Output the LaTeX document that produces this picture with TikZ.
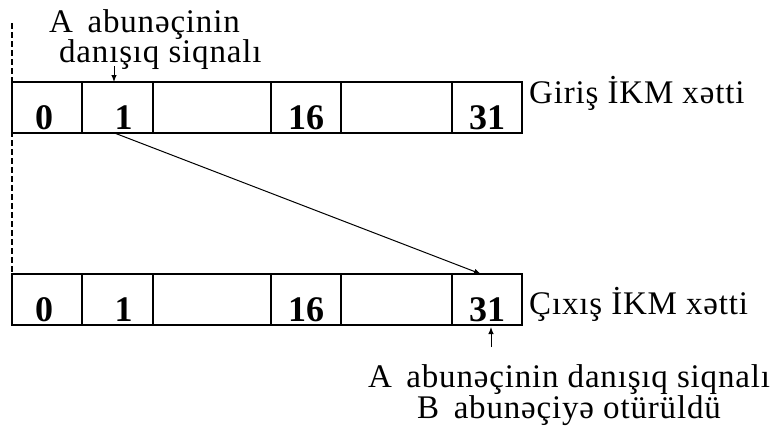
\documentclass[tikz,border=0pt]{standalone}
\usepackage{fontspec}
\setmainfont{Liberation Serif}
\newfontfamily\lblfont[LetterSpace=2.5]{Liberation Serif}
\usetikzlibrary{arrows.meta,positioning}

\begin{document}
\begin{tikzpicture}[x=1pt, y=-1pt,
    cell/.style={draw, line width=1.2pt, inner sep=0pt, outer sep=0pt, minimum height=51pt, anchor=north west},
    slotnum/.style={font=\fontsize{36}{36}\selectfont\bfseries, inner sep=0pt, anchor=base},
    linelabel/.style={font=\lblfont\fontsize{33}{33}\selectfont, inner sep=0pt, anchor=base west},
    note/.style={font=\lblfont\fontsize{33}{#1}\selectfont, inner sep=0pt},
    sig/.style={line width=1pt, -{Latex[length=7pt, width=5.5pt]}},
]

\useasboundingbox (0,0) rectangle (771,432);

\def\ytop{82}  \def\ybot{274}

% Input and output frames (cells with their slot numbers)
\foreach \xa/\xb/\num/\dx/\k in {12/82/0/-3/0, 82/153/1/6/1, 153/271//0/2, 271/341/16/0/3, 341/452//0/4, 452/522/31/0/5} {
    \node[cell, minimum width={(\xb-\xa)*1pt}] (in\k) at (\xa, \ytop) {};
    \node[cell, minimum width={(\xb-\xa)*1pt}] (out\k) at (\xa, \ybot) {};
    \node[slotnum] (innum\k) at ([xshift=\dx pt, yshift=4pt]in\k.south) {\num};
    \node[slotnum] (outnum\k) at ([xshift=\dx pt, yshift=4pt]out\k.south) {\num};
}

% Line names
\node[linelabel] (inname) at (529, 103) {Giriş İKM xətti};
\node[linelabel] (outname) at (529, 314) {Çıxış İKM xətti};

% Dashed frame marker on the left
\coordinate (dashtop) at (12, 23);
\draw[line width=1.4pt, dash pattern=on 6pt off 3pt] (dashtop) -- (out0.north west);

% Speech signal of subscriber A in slot 1 (base = last line)
\node[note=30, align=left, anchor=base west] (sigA) at (49, 62) {A\, abunəçinin\\\hspace*{10pt}danışıq siqnalı};
\coordinate (sigAend) at (114, 66);
\draw[sig] (sigAend) -- ([xshift=-3.5pt]in1.north);

% Switching from input slot 1 to output slot 31
\draw[sig] ([xshift=-3pt]in1.south) -- ([xshift=-6pt]out5.north);

% Delivered to subscriber B
\node[note=28, align=center, anchor=base] (sigB) at (569, 418) {A\, abunəçinin danışıq siqnalı\\B\, abunəçiyə otürüldü};
\coordinate (sigBend) at (491, 347);
\draw[sig, shorten >=2pt] (sigBend) -- ([xshift=4pt]out5.south);

\end{tikzpicture}
\end{document}
